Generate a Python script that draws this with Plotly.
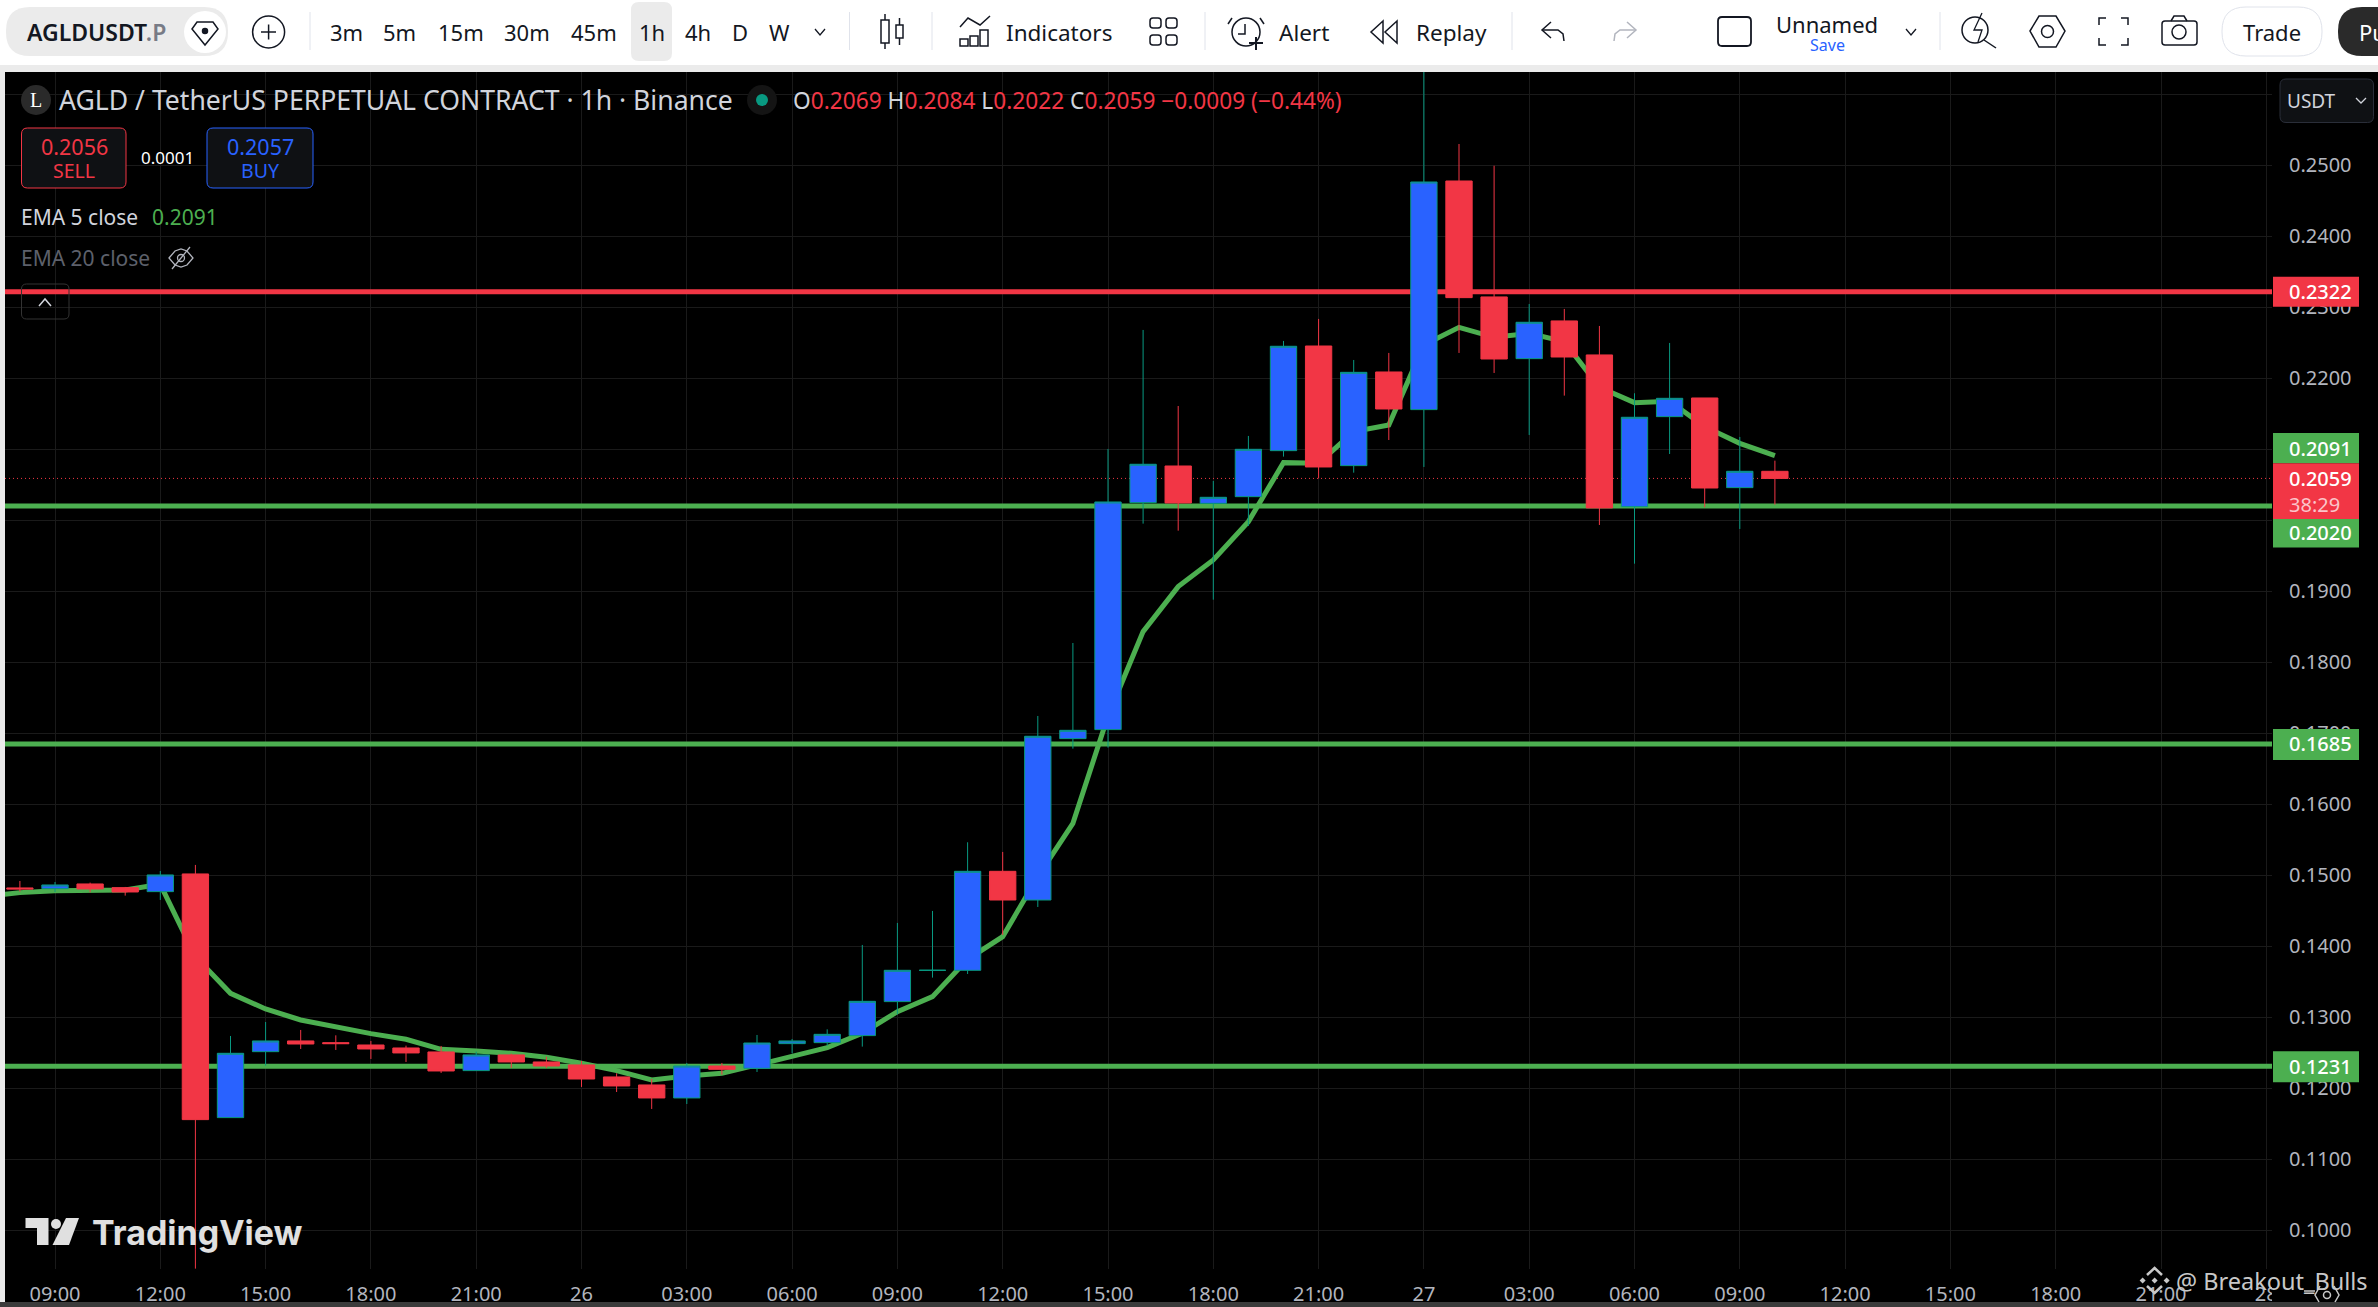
import plotly.graph_objects as go

# hours counted from 09:00 on the 25th
hours = list(range(-1, 50))
opens = [.14822, .14812, .14878, .14826, .1477, .15019, .11587, .12516, .12667, .12643, .1261, .12568, .12512, .12249,
         .1247, .12371, .12329, .1216, .12047, .11864, .12314, .12282, .12629, .12643, .12742, .13221, .13662, .13662,
         .15056, .14652, .16925, .17052, .20249, .20765, .20239, .20333, .20981, .22455, .2077, .22089, .21559, .24779,
         .23146, .22277, .22808, .22329, .20192, .2146, .21723, .2046, .2069]
closes = [.14808, .14864, .14808, .14765, .15005, .11559, .12493, .12667, .12624, .12629, .12554, .12498, .12244, .1247,
          .12371, .12314, .12131, .12033, .11864, .12314, .12267, .12638, .12667, .1276, .13225, .13662, .13662, .15056,
          .14652, .16958, .17042, .20258, .20789, .20244, .20324, .21, .22451, .20751, .22084, .21568, .24765, .23136,
          .22272, .22789, .223, .20174, .21451, .21718, .20455, .2069, .2059]
highs = [.1492, .14906, .14897, .14836, .15061, .15146, .12737, .12934, .12822, .12746, .12667, .12601, .12596, .12516,
         .12488, .12446, .12385, .12211, .12131, .12357, .12357, .12751, .12695, .12831, .14019, .14329, .14498, .15465,
         .15329, .17244, .18272, .21005, .22681, .2161, .20554, .21188, .22526, .22836, .22258, .22357, .264, .253,
         .24994, .23047, .22977, .22737, .21789, .22498, .21723, .21174, .2084]
lows = [.1477, .14765, .1476, .14714, .14653, .0946, .11587, .12319, .12554, .1254, .12413, .12371, .12216, .12249,
        .12286, .12286, .12019, .11948, .11709, .11779, .12192, .1223, .12493, .126, .12587, .13042, .13559, .1361,
        .1416, .14554, .16784, .16798, .19953, .19854, .18882, .1992, .20897, .20591, .20671, .21131, .20751, .22357,
        .22075, .21202, .21756, .19934, .19389, .20934, .20183, .19878, .2022]

ema_hours = list(range(-2, 50))
ema_values = [.147, .14756, .14784, .14789, .14793, .14873, .13854, .13338, .13117, .12962, .12859, .1277, .1269, .12549,
              .12526, .12493, .12437, .12352, .12249, .12117, .12174, .12211, .12329, .12446, .12573, .12775, .1308,
              .13291, .13817, .14136, .14981, .15732, .17244, .18432, .19066, .19441, .19981, .20812, .20803, .21249,
              .21343, .2247, .22718, .22577, .22634, .22516, .21873, .21657, .21676, .21319, .21084, .2091]

level_prices = [.2322, .2020, .1685, .1231]
level_colors = ['#F23645', '#4CAF50', '#4CAF50', '#4CAF50']
last_price = .2059
ema_last = .2091

x_tick_hours = list(range(0, 66, 3))
x_tick_text = ['09:00', '12:00', '15:00', '18:00', '21:00', '26', '03:00', '06:00', '09:00', '12:00', '15:00', '18:00',
               '21:00', '27', '03:00', '06:00', '09:00', '12:00', '15:00', '18:00', '21:00', '28']
y_tick_vals = [.10, .11, .12, .13, .14, .15, .16, .17, .18, .19, .20, .21, .22, .23, .24, .25, .26]
y_tick_text = ['0.1000', '0.1100', '0.1200', '0.1300', '0.1400', '0.1500', '0.1600', '0.1700', '0.1800', '0.1900',
               '0.2000', '0.2100', '0.2200', '0.2300', '0.2400', '0.2500', '']

timeframes = ['3m', '5m', '15m', '30m', '45m', '1h', '4h', 'D', 'W']
timeframe_x = [346, 399.5, 461, 527, 594, 652, 698, 740, 779]

RED = '#F23645'
GREEN = '#4CAF50'
BLUE = '#2962FF'
TEAL = '#089981'
INK = '#131722'
AXIS = '#B2B5BE'
FONT = 'Noto Sans'

W, H = 2378, 1307
PL, PR, PT, PB = 5, 2272, 72, 1269
x_range = [(PL - 55) / 35.1, (PR - 55) / 35.1]
y_range = [.10 + (1230.3 - PB) / 7100, .10 + (1230.3 - PT) / 7100]


def px(x):
    return (x - PL) / (PR - PL)


def py(y):
    return 1 - (y - PT) / (PB - PT)


shapes = []
annotations = []


def rect(x0, y0, x1, y1, fill=None, line=None, lw=1, r=0, layer='above'):
    if r:
        d = f'M{px(x0 + r)},{py(y0)} L{px(x1 - r)},{py(y0)} Q{px(x1)},{py(y0)} {px(x1)},{py(y0 + r)} ' \
            f'L{px(x1)},{py(y1 - r)} Q{px(x1)},{py(y1)} {px(x1 - r)},{py(y1)} L{px(x0 + r)},{py(y1)} ' \
            f'Q{px(x0)},{py(y1)} {px(x0)},{py(y1 - r)} L{px(x0)},{py(y0 + r)} Q{px(x0)},{py(y0)} {px(x0 + r)},{py(y0)} Z'
        shapes.append(dict(type='path', xref='paper', yref='paper', path=d, fillcolor=fill or 'rgba(0,0,0,0)',
                           line=dict(color=line or 'rgba(0,0,0,0)', width=lw), layer=layer))
    else:
        shapes.append(dict(type='rect', xref='paper', yref='paper', x0=px(x0), x1=px(x1), y0=py(y0), y1=py(y1),
                           fillcolor=fill or 'rgba(0,0,0,0)', line=dict(color=line or 'rgba(0,0,0,0)', width=lw),
                           layer=layer))


def poly(points, color=INK, lw=1.5, closed=False, fill=None):
    d = 'M' + ' L'.join(f'{px(x)},{py(y)}' for x, y in points) + (' Z' if closed else '')
    shapes.append(dict(type='path', xref='paper', yref='paper', path=d, fillcolor=fill or 'rgba(0,0,0,0)',
                       line=dict(color=color, width=lw), layer='above'))


def ring(cx, cy, r, color=INK, lw=1.5, fill=None):
    shapes.append(dict(type='circle', xref='paper', yref='paper', x0=px(cx - r), x1=px(cx + r), y0=py(cy + r),
                       y1=py(cy - r), fillcolor=fill or 'rgba(0,0,0,0)',
                       line=dict(color=color or 'rgba(0,0,0,0)', width=lw), layer='above'))


def label(x, y, text, size=22, color=INK, anchor='left', weight=None, family=FONT):
    annotations.append(dict(xref='paper', yref='paper', x=px(x), y=py(y), text=text, showarrow=False, xanchor=anchor,
                            yanchor='middle', borderpad=0,
                            font=dict(family=family, size=size, color=color, weight=weight)))


def chevron_down(cx, cy, color=INK):
    poly([(cx - 5, cy - 3), (cx, cy + 3), (cx + 5, cy - 3)], color, 1.3)


# page frame
rect(0, 65, W, 72, fill='#EBEBEB', layer='below')
rect(0, 65, PL, 1302, fill='#EBEBEB', layer='below')
rect(PL, 72, W, 1302, fill='#000000', layer='below')
rect(0, 1302, W, H, fill='#3B3B3B', layer='below')

# top toolbar
rect(6, 7, 228, 56, fill='#EBEBEB', r=24)
ring(205, 32, 21, color=None, lw=0, fill='#FFFFFF')
poly([(197, 22), (213, 22), (218, 29), (205, 45), (192, 29)], INK, 1.5, closed=True)
ring(205, 31, 2.5, fill=INK)
label(26, 32, 'AGLDUSDT<span style="color:#787B86">.P</span>', 23, INK, weight=600)
ring(268.6, 32, 16)
poly([(261, 32), (276, 32)])
poly([(268.6, 24.5), (268.6, 39.5)])
for sep_x in [310, 849.5, 932, 1205, 1512, 1940]:
    poly([(sep_x, 12), (sep_x, 50)], '#E0E3EB', 1)
rect(631, 2, 672, 61, fill='#EBEBEB', r=8)
for tf, tf_x in zip(timeframes, timeframe_x):
    label(tf_x, 32, tf, 22, INK, 'center')
chevron_down(820, 32)
# candle icon
rect(881, 20, 889, 43, line=INK, lw=1.5)
poly([(885, 14), (885, 20)])
poly([(885, 43), (885, 49)])
rect(896, 25, 903, 38, line=INK, lw=1.5)
poly([(899.5, 18), (899.5, 25)])
poly([(899.5, 38), (899.5, 45)])
# indicators
poly([(960, 27), (968, 18), (980, 25), (990, 16)])
rect(960, 39, 968, 46, line=INK, lw=1.5)
rect(970, 36, 978, 46, line=INK, lw=1.5)
rect(980, 30, 988, 46, line=INK, lw=1.5)
label(1005, 32, 'Indicators', 22.5)
for lx in [1150, 1166]:
    for ly in [18, 35]:
        rect(lx, ly, lx + 11, ly + 10, line=INK, lw=1.5, r=3)
# alert
ring(1246, 32, 14)
poly([(1245, 24), (1245, 34), (1238, 34)])
poly([(1232, 18), (1228, 24)])
poly([(1260, 18), (1264, 24)])
poly([(1256, 37), (1256, 50)], INK, 2)
poly([(1249, 43), (1263, 43)], INK, 2)
label(1278, 32, 'Alert', 22.5)
# replay
poly([(1383, 21), (1371, 32), (1383, 43)], closed=True)
poly([(1397, 21), (1385, 32), (1397, 43)], closed=True)
label(1415, 32, 'Replay', 22.5)
# undo and redo
poly([(1551, 22), (1542, 30), (1551, 38)])
poly([(1542, 30), (1558, 30), (1563, 34), (1564, 41)])
poly([(1627, 22), (1636, 30), (1627, 38)], '#B2B5BE')
poly([(1636, 30), (1620, 30), (1615, 34), (1614, 41)], '#B2B5BE')
# layout name
rect(1718, 17, 1751, 46, line=INK, lw=1.8, r=4)
label(1827, 24, 'Unnamed', 22, INK, 'center')
label(1827, 45, 'Save', 16, BLUE, 'center')
chevron_down(1911, 32)
# quick search
ring(1975, 30, 13)
poly([(1984, 40), (1996, 48)])
poly([(1982, 13), (1974, 30), (1982, 30), (1978, 42)], INK, 1.3)
# settings
poly([(2030, 31), (2039, 16), (2056, 16), (2065, 31), (2056, 47), (2039, 47)], closed=True)
ring(2047.5, 31.5, 6)
# fullscreen
poly([(2099, 25), (2099, 18), (2106, 18)])
poly([(2121, 18), (2128, 18), (2128, 25)])
poly([(2099, 38), (2099, 45), (2106, 45)])
poly([(2121, 45), (2128, 45), (2128, 38)])
# camera
rect(2162, 21, 2197, 45, line=INK, lw=1.5, r=3)
poly([(2171, 21), (2174, 16), (2184, 16), (2187, 21)])
ring(2179, 32, 7)
# trade and publish
rect(2222, 7, 2322, 56, fill='#FFFFFF', line='#E0E3EB', r=24)
label(2272, 32, 'Trade', 22, INK, 'center')
rect(2338, 7, 2400, 56, fill='#2A2A2A', r=24)
label(2358, 32, 'Pu', 22, '#FFFFFF')

# chart header
ring(36, 100, 15, color=None, lw=0, fill='#2A2A2A')
label(36, 100, 'L', 20, '#FFFFFF', 'center', family='Liberation Serif')
label(58, 100, 'AGLD / TetherUS PERPETUAL CONTRACT · 1h · Binance', 26.6, '#D1D4DC')
ring(762, 100, 15, color=None, lw=0, fill='#141414')
ring(762, 100, 6, color=None, lw=0, fill=TEAL)
ohlc = ''.join(f'{k}<span style="color:{RED}">{v}</span> ' for k, v in
               [('O', '0.2069'), ('H', '0.2084'), ('L', '0.2022'), ('C', '0.2059')])
label(792, 100, ohlc + f'<span style="color:{RED}">−0.0009 (−0.44%)</span>', 22.7, '#D1D4DC')

# sell and buy buttons
rect(21.5, 128, 126, 188, fill='#0F1114', line=RED, r=6)
label(74, 146, '0.2056', 21.5, RED, 'center')
label(74, 170, 'SELL', 19.5, RED, 'center')
label(167, 157, '0.0001', 17, '#FFFFFF', 'center')
rect(207, 128, 313, 188, fill='#0F1114', line=BLUE, r=6)
label(260, 146, '0.2057', 21.5, BLUE, 'center')
label(260, 170, 'BUY', 19.5, BLUE, 'center')

# indicator legend
label(20, 217, 'EMA 5 close', 21, '#D1D4DC')
label(151, 217, '0.2091', 21, GREEN)
label(20, 258, 'EMA 20 close', 21, '#5D606B')
poly([(169, 258), (175, 251), (181, 249), (187, 251), (193, 258), (187, 265), (181, 267), (175, 265)],
     '#B2B5BE', 1.3, True)
ring(181, 258, 3.5, '#B2B5BE', 1.3)
poly([(172, 269), (190, 247)], '#B2B5BE', 1.3)
rect(21.5, 284, 69, 319, fill='rgba(0,0,0,0)', line='#333333', r=5)
poly([(39, 306), (45, 299), (51, 306)], '#D1D4DC', 1.5)

# currency button
rect(2280, 79, 2373.5, 122.5, fill='#0F1114', line='#2A2E39', r=6)
label(2286, 101, 'USDT', 19, '#D1D4DC')
poly([(2356, 98), (2361, 103), (2366, 98)], '#D1D4DC', 1.3)

# price scale tags
for price, colour, text, y0, y1, shift in [
    (.2322, RED, '0.2322', -15, 15, 0),
    (.2091, GREEN, '0.2091', -7.6, 22.7, 7.5),
    (.2020, GREEN, '0.2020', -41.5, -12.8, -26.5),
    (.1685, GREEN, '0.1685', -16, 15, 0),
    (.1231, GREEN, '0.1231', -16, 15, 0),
    (last_price, RED, '0.2059', -40.6, 15.1, 0),
]:
    shapes.append(dict(type='rect', xref='paper', yref='y', x0=px(2273), x1=px(2359), ysizemode='pixel',
                       yanchor=price, y0=y0, y1=y1, fillcolor=colour, line=dict(width=0), layer='above'))
    annotations.append(dict(xref='paper', yref='y', x=px(2288), y=price, yshift=shift, text=text, showarrow=False,
                            xanchor='left', yanchor='middle', borderpad=0,
                            font=dict(family=FONT, size=20, color='#FFFFFF', weight=500)))
annotations.append(dict(xref='paper', yref='y', x=px(2288), y=last_price, yshift=-25.6, text='38:29', showarrow=False,
                        xanchor='left', yanchor='middle', borderpad=0,
                        font=dict(family=FONT, size=20, color='#FBC4C9')))

# TradingView logo
poly([(25.5, 1218), (48.5, 1218), (48.5, 1245), (37, 1245), (37, 1228), (25.5, 1228)], '#E0E0E0', 0, True, '#E0E0E0')
ring(56, 1224, 5, color=None, lw=0, fill='#E0E0E0')
poly([(66, 1218), (79, 1218), (69, 1245), (52.5, 1245)], '#E0E0E0', 0, True, '#E0E0E0')
label(91, 1232.5, 'TradingView', 34, '#E0E0E0', weight=700, family='Inter')

# corner of the time scale, watermark and gear
rect(2272, 1269, W, 1302, fill='#000000')
WM = '#C8C8C8'
poly([(2147, 1275), (2154.6, 1268), (2162, 1275)], WM, 2.5)
poly([(2147, 1286), (2154.6, 1293), (2162, 1286)], WM, 2.5)
for dx, dy in [(-12, 0), (0, 0), (12, 0)]:
    poly([(2154.6 + dx - 3, 1280.5 + dy), (2154.6 + dx, 1277.5 + dy), (2154.6 + dx + 3, 1280.5 + dy),
          (2154.6 + dx, 1283.5 + dy)], WM, 0, True, WM)
label(2175, 1281, '@ Breakout_Bulls', 23.5, WM)
poly([(2304, 1291), (2315, 1291)], WM, 1.5)
poly([(2320, 1286), (2315, 1295), (2319, 1302)], WM, 1.5)
ring(2327, 1295, 3.5, WM, 1.5)
poly([(2334, 1286), (2339, 1295), (2335, 1302)], WM, 1.5)

fig = go.Figure()
for price, colour in zip(level_prices, level_colors):
    fig.add_trace(go.Scatter(x=x_range, y=[price, price], mode='lines', line=dict(color=colour, width=5),
                             hoverinfo='skip'))
fig.add_trace(go.Scatter(x=x_range, y=[last_price, last_price], mode='lines',
                         line=dict(color=RED, width=1, dash='1px,3px'), hoverinfo='skip'))
fig.add_trace(go.Scatter(x=ema_hours, y=ema_values, mode='lines', line=dict(color=GREEN, width=5), name='EMA 5'))

# on overlaid axes so the candles sit on top of the lines
fig.add_trace(go.Candlestick(x=hours, open=opens, high=highs, low=lows, close=closes, xaxis='x2', yaxis='y2',
                             increasing=dict(line=dict(color=TEAL, width=1), fillcolor=BLUE),
                             decreasing=dict(line=dict(color=RED, width=1), fillcolor=RED)))

fig.update_layout(
    width=W, height=H, margin=dict(l=PL, r=W - PR, t=PT, b=H - PB, autoexpand=False),
    paper_bgcolor='#FFFFFF', plot_bgcolor='#000000', showlegend=False, boxgap=0.25, boxgroupgap=0,
    font=dict(family=FONT, size=20, color=AXIS),
    xaxis=dict(range=x_range, tickmode='array', tickvals=x_tick_hours, ticktext=x_tick_text, showgrid=True,
               gridcolor='#1A1A1A', gridwidth=1, zeroline=False, showline=False, ticks='',
               tickfont=dict(family=FONT, size=20, color=AXIS), ticklabelstandoff=11, rangeslider=dict(visible=False)),
    yaxis=dict(range=y_range, side='right', tickmode='array', tickvals=y_tick_vals, ticktext=y_tick_text,
               showgrid=True, gridcolor='#1A1A1A', gridwidth=1, zeroline=False, showline=False, ticks='',
               tickfont=dict(family=FONT, size=20, color=AXIS), ticklabelstandoff=16),
    xaxis2=dict(range=x_range, overlaying='x', anchor='y2', visible=False, rangeslider=dict(visible=False)),
    yaxis2=dict(range=y_range, overlaying='y', anchor='x2', side='right', visible=False),
    shapes=shapes, annotations=annotations,
)

fig.write_html("out.html", config={'displayModeBar': False},
               post_script="document.body.style.margin='0';document.body.style.overflow='hidden';")
